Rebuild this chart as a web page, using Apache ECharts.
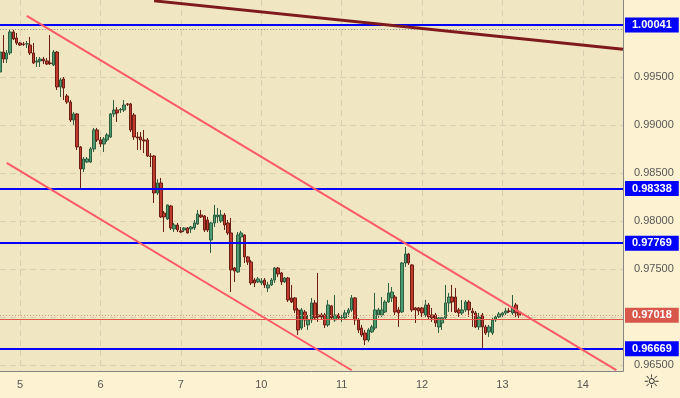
<!DOCTYPE html>
<html><head><meta charset="utf-8">
<script src="https://cdn.jsdelivr.net/npm/echarts@6/dist/echarts.min.js"></script>
<style>html,body{margin:0;padding:0;background:#FDF3D2;}#c{width:680px;height:398px;}</style>
</head><body><div id="c"></div>
<script>
// ---- data ----
const dayLabels = ['4','5','6','7','10','11','12','13','14'];
const firstHour = 18;          // first slot = day 4, 18:00 (hourly bars)
const slotCount = 187;
const yTickValues = [0.965, 0.970, 0.975, 0.980, 0.985, 0.990, 0.995, 1.000];
const yLabelValues = [0.965, 0.975, 0.980, 0.985, 0.990, 0.995];
const yMin = 0.96437, yMax = 1.00302;
const levels = [1.00041, 0.98338, 0.97769, 0.96669];
const lastPrice = 0.97018;
const redLevel = 0.96979;
const dottedLevel = 0.99995;
const trendMaroon = [[46, 1.00293], [186, 0.99788]];
const trendUpper = [[8, 1.00136], [184, 0.96445]];
const trendLower = [[2, 0.98606], [105, 0.96445]];
// [open, close, low, high]
const candles = [
[0.99552,0.99760,0.99531,0.99781],[0.99760,0.99687,0.99646,0.99937],[0.99687,0.99750,0.99646,0.99781],[0.99750,0.99969,0.99729,0.99990],
[0.99969,0.99896,0.99885,0.99990],[0.99906,0.99854,0.99833,0.99958],[0.99854,0.99833,0.99823,0.99865],[0.99844,0.99839,0.99823,0.99865],
[0.99844,0.99846,0.99802,0.99875],[0.99833,0.99750,0.99729,0.99917],[0.99750,0.99646,0.99635,0.99854],[0.99656,0.99667,0.99604,0.99708],
[0.99667,0.99687,0.99604,0.99708],[0.99687,0.99667,0.99635,0.99708],[0.99667,0.99635,0.99625,0.99698],[0.99646,0.99640,0.99625,0.99937],
[0.99625,0.99760,0.99615,0.99781],[0.99760,0.99396,0.99364,0.99771],[0.99396,0.99469,0.99292,0.99489],[0.99479,0.99385,0.99260,0.99500],
[0.99302,0.99239,0.99219,0.99323],[0.99239,0.99052,0.99031,0.99260],[0.99052,0.99115,0.99000,0.99135],[0.99115,0.98771,0.98740,0.99125],
[0.98771,0.98542,0.98344,0.98781],[0.98542,0.98646,0.98510,0.98667],[0.98614,0.98646,0.98604,0.98667],[0.98614,0.98750,0.98604,0.98771],
[0.98750,0.98948,0.98719,0.98969],[0.98948,0.98844,0.98823,0.98969],[0.98844,0.98802,0.98771,0.98875],[0.98802,0.98854,0.98719,0.98875],
[0.98844,0.98896,0.98823,0.98917],[0.98875,0.99115,0.98864,0.99125],[0.99115,0.99156,0.99083,0.99260],[0.99156,0.99125,0.99031,0.99187],
[0.99156,0.99160,0.99125,0.99177],[0.99156,0.99208,0.99135,0.99260],[0.99219,0.99215,0.99198,0.99229],[0.99219,0.98948,0.98927,0.99229],
[0.99104,0.98875,0.98844,0.99125],[0.98875,0.98864,0.98740,0.98927],[0.98875,0.98844,0.98740,0.98927],[0.98844,0.98833,0.98708,0.98948],
[0.98844,0.98677,0.98667,0.98864],[0.98677,0.98672,0.98562,0.98708],[0.98677,0.98292,0.98187,0.98687],[0.98292,0.98396,0.98271,0.98437],
[0.98396,0.98042,0.98031,0.98448],[0.98083,0.98042,0.97885,0.98104],[0.98021,0.98167,0.98010,0.98170],[0.98156,0.97927,0.97906,0.98167],
[0.97917,0.97958,0.97885,0.97979],[0.97958,0.97906,0.97885,0.97979],[0.97896,0.97885,0.97875,0.97937],[0.97906,0.97927,0.97885,0.97937],
[0.97927,0.97875,0.97870,0.97937],[0.97917,0.97937,0.97875,0.97948],[0.97927,0.97979,0.97906,0.98010],[0.97969,0.98073,0.97958,0.98115],
[0.98062,0.98042,0.98031,0.98115],[0.98052,0.97906,0.97885,0.98062],[0.98010,0.97906,0.97885,0.98042],[0.97802,0.97979,0.97667,0.97989],
[0.97979,0.98062,0.97937,0.98167],[0.98042,0.98062,0.97979,0.98135],[0.98000,0.98062,0.97979,0.98115],[0.98062,0.97958,0.97906,0.98083],
[0.97979,0.97875,0.97854,0.98010],[0.97875,0.97490,0.97260,0.98031],[0.97510,0.97479,0.97365,0.97521],[0.97469,0.97854,0.97458,0.97885],
[0.97833,0.97875,0.97521,0.97896],[0.97854,0.97625,0.97562,0.97860],[0.97625,0.97573,0.97542,0.97635],[0.97573,0.97354,0.97333,0.97594],
[0.97385,0.97354,0.97312,0.97406],[0.97365,0.97396,0.97354,0.97417],[0.97354,0.97375,0.97333,0.97406],[0.97385,0.97333,0.97302,0.97406],
[0.97302,0.97333,0.97260,0.97365],[0.97333,0.97385,0.97323,0.97406],[0.97385,0.97510,0.97354,0.97521],[0.97510,0.97448,0.97417,0.97521],
[0.97458,0.97365,0.97333,0.97469],[0.97365,0.97406,0.97354,0.97417],[0.97406,0.97177,0.97156,0.97417],[0.97198,0.97156,0.97146,0.97333],
[0.97198,0.97073,0.97042,0.97208],[0.97073,0.96865,0.96812,0.97094],[0.96885,0.97073,0.96865,0.97094],[0.97052,0.96969,0.96896,0.97073],
[0.96917,0.96969,0.96865,0.97021],[0.96969,0.97146,0.96937,0.97198],[0.97146,0.96990,0.96969,0.97177],[0.97021,0.97000,0.96948,0.97458],
[0.97021,0.97000,0.96969,0.97042],[0.97021,0.96917,0.96885,0.97042],[0.96917,0.97125,0.96896,0.97177],[0.97115,0.96990,0.96969,0.97125],
[0.96969,0.97021,0.96948,0.97229],[0.97021,0.96990,0.96969,0.97042],[0.96990,0.96994,0.96948,0.97021],[0.96990,0.97042,0.96969,0.97073],
[0.97042,0.97073,0.97000,0.97094],[0.97073,0.97198,0.97052,0.97229],[0.97198,0.96969,0.96917,0.97208],[0.96969,0.96865,0.96833,0.96990],
[0.96885,0.96812,0.96792,0.96917],[0.96833,0.96760,0.96708,0.96865],[0.96760,0.96865,0.96740,0.96885],[0.96844,0.96896,0.96833,0.96917],
[0.96885,0.97073,0.96865,0.97250],[0.97021,0.97073,0.96990,0.97094],[0.97021,0.97073,0.97000,0.97208],[0.97052,0.97156,0.97042,0.97177],
[0.97156,0.97250,0.97146,0.97354],[0.97198,0.97260,0.97156,0.97312],[0.97208,0.97052,0.97021,0.97229],[0.97073,0.97042,0.96896,0.97104],
[0.97052,0.97562,0.97042,0.97573],[0.97562,0.97656,0.97521,0.97729],[0.97656,0.97562,0.97542,0.97667],[0.97542,0.97073,0.97052,0.97550],
[0.97094,0.97073,0.96937,0.97104],[0.97094,0.97062,0.97021,0.97104],[0.97094,0.97042,0.97000,0.97104],[0.97021,0.97125,0.97000,0.97177],
[0.97125,0.97000,0.96969,0.97146],[0.97021,0.96990,0.96948,0.97094],[0.97021,0.96937,0.96896,0.97042],[0.96896,0.96990,0.96833,0.97000],
[0.96937,0.96990,0.96865,0.97000],[0.96990,0.97146,0.96969,0.97333],[0.97146,0.97208,0.97052,0.97250],[0.97208,0.97156,0.97052,0.97333],
[0.97208,0.97052,0.97042,0.97302],[0.97073,0.97042,0.97000,0.97094],[0.97042,0.97073,0.97021,0.97177],[0.97073,0.97156,0.97052,0.97177],
[0.97156,0.97073,0.97000,0.97177],[0.97062,0.97042,0.96896,0.97094],[0.97042,0.96896,0.96885,0.97062],[0.96896,0.97000,0.96865,0.97042],
[0.97021,0.96896,0.96677,0.97042],[0.96896,0.96833,0.96812,0.96917],[0.96844,0.96896,0.96792,0.96917],[0.96833,0.96969,0.96812,0.96990],
[0.96969,0.97000,0.96948,0.97021],[0.97000,0.97031,0.96990,0.97052],[0.97021,0.97042,0.97000,0.97052],[0.97042,0.97062,0.97021,0.97094],
[0.97062,0.97058,0.97042,0.97094],[0.97042,0.97104,0.97021,0.97229],[0.97125,0.97042,0.97000,0.97146],[0.97052,0.97018,0.96990,0.97073]
];

// ---- build ----
const categories = [];
for (let s = 0; s < slotCount; s++) {
  const h = firstHour + s;
  categories.push(dayLabels[Math.floor(h / 24)] + ' ' + String(h % 24).padStart(2, '0') + ':00');
}
const isDayStart = (i, v) => String(v).endsWith(' 00:00');
const FONT = '"Liberation Sans", Arial, sans-serif';

function boxLabel(bg, val) {
  return { show: true, position: 'end', distance: 2, formatter: () => val.toFixed(5),
    color: '#fff', fontWeight: 'bold', fontSize: 11, lineHeight: 11, fontFamily: FONT,
    backgroundColor: bg, padding: [2, 7, 2, 7] };
}
const mlData = [];
mlData.push({ yAxis: dottedLevel, lineStyle: { color: '#9a9a9a', width: 1, type: [1, 2] }, label: { show: false } });
mlData.push({ yAxis: redLevel, lineStyle: { color: '#E0584A', width: 1, type: 'solid' }, label: { show: false } });
mlData.push({ yAxis: lastPrice, lineStyle: { color: '#D9967F', width: 1, type: [1, 2] }, label: boxLabel('#D9574A', lastPrice) });
levels.forEach(v => mlData.push({ yAxis: v, lineStyle: { color: '#0000FF', width: 2, type: 'solid' }, label: boxLabel('#0000FF', v) }));
function seg(pts, color, width) {
  return [{ coord: pts[0], lineStyle: { color, width, type: 'solid' }, label: { show: false } }, { coord: pts[1] }];
}
mlData.push(seg(trendMaroon, '#7E1A1C', 3));
mlData.push(seg(trendUpper, '#FF5A66', 2));
mlData.push(seg(trendLower, '#FF5A66', 2));

const chart = echarts.init(document.getElementById('c'), null, { renderer: 'canvas' });
chart.setOption({
  animation: false,
  backgroundColor: '#FDF3D2',
  textStyle: { fontFamily: FONT },
  grid: { left: 0, right: 57, top: 0, bottom: 27, show: true, backgroundColor: '#F0E6C1', borderWidth: 0 },
  graphic: [
    { type: 'text', left: 2, top: -38, silent: true, z: -1,
      style: { text: 'Dollar', fontSize: 56, fontFamily: FONT, fill: '#E8DEB8' } },
    { type: 'text', left: 643, top: 374, silent: true,
      style: { text: '\u263C', fontSize: 19, fontFamily: '"DejaVu Sans"', fill: '#333' } }
  ],
  xAxis: {
    type: 'category', data: categories, boundaryGap: false,
    axisLine: { show: true, lineStyle: { color: '#858585' } },
    axisTick: { show: false },
    axisLabel: { interval: isDayStart, formatter: v => v.endsWith(' 00:00') ? v.split(' ')[0] : '',
      color: '#555', fontSize: 11, margin: 8, fontFamily: FONT },
    splitLine: { show: true, interval: isDayStart, lineStyle: { color: '#D8D0B3', type: [6, 4] } }
  },
  yAxis: {
    type: 'value', position: 'right', min: yMin, max: yMax, scale: true,
    axisLine: { show: true, lineStyle: { color: '#858585' } },
    axisTick: { show: false, customValues: yTickValues },
    axisLabel: { customValues: yLabelValues, formatter: v => v.toFixed(5), color: '#555', fontSize: 11, margin: 11, fontFamily: FONT },
    splitLine: { show: true, lineStyle: { color: '#D8D0B3', type: [6, 4] } }
  },
  series: [{
    type: 'candlestick', data: candles, barWidth: 3,
    itemStyle: { color: '#4E9C6E', color0: '#C13A2C', borderColor: '#2E5E40', borderColor0: '#6A1E16', borderWidth: 1 },
    markLine: { silent: true, precision: 5, symbol: ['none', 'none'], animation: false, data: mlData }
  }]
});
</script></body></html>
